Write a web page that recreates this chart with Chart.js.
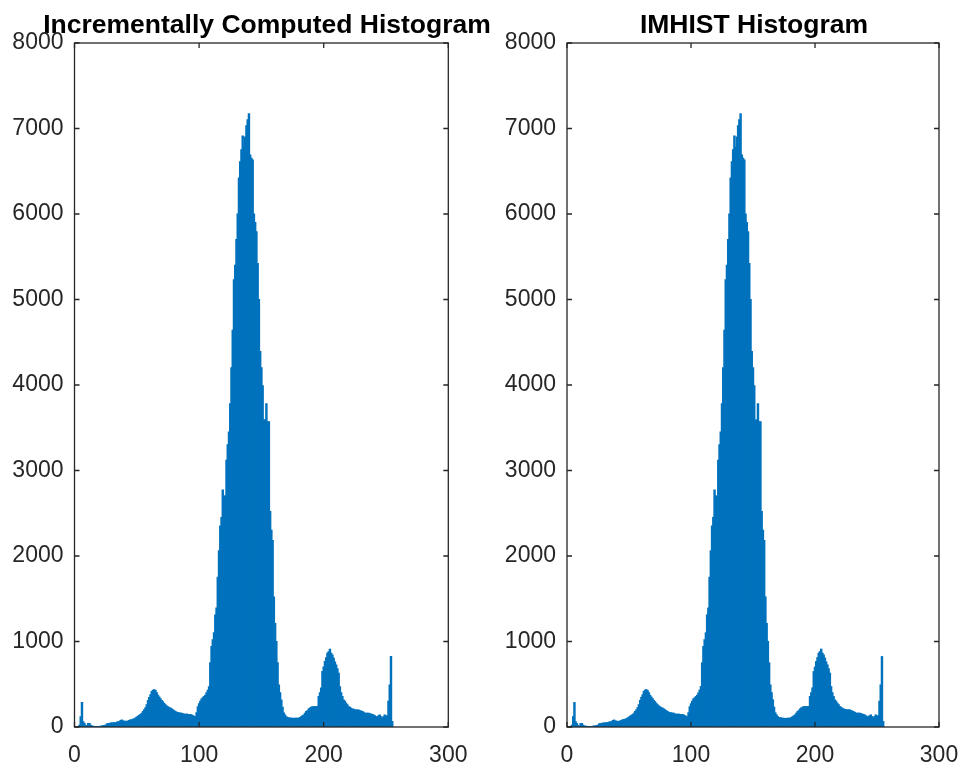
<!DOCTYPE html>
<html>
<head>
<meta charset="utf-8">
<script src="https://cdn.jsdelivr.net/npm/chart.js@4/dist/chart.umd.min.js"></script>
<style>
  html, body { margin: 0; padding: 0; background: #fff; overflow: hidden; width: 961px; height: 763px; }
  canvas { position: absolute; top: 0; }
  #left { left: 0; }
  #right { left: 500px; }
</style>
</head>
<body>
<canvas id="left" width="534" height="763"></canvas>
<canvas id="right" width="508" height="763"></canvas>
<script>
// intensity levels 0..255
const levels = Array.from({ length: 256 }, (_, i) => i);

// pixel counts per level (both panels show the same histogram)
const counts = [
  0, 0, 0, 0, 20, 120, 285, 60, 40, 15,
  10, 40, 40, 20, 10, 8, 6, 5, 5, 5,
  5, 8, 10, 12, 15, 20, 35, 40, 40, 45,
  45, 45, 50, 50, 55, 60, 60, 75, 80, 70,
  65, 65, 60, 70, 75, 85, 80, 90, 95, 105,
  115, 125, 135, 145, 160, 180, 200, 225, 260, 310,
  345, 375, 415, 430, 435, 425, 400, 370, 350, 330,
  310, 295, 275, 260, 245, 235, 225, 220, 210, 200,
  190, 180, 170, 165, 165, 160, 160, 150, 150, 145,
  150, 145, 140, 145, 140, 130, 125, 115, 165, 235,
  270, 300, 327, 340, 355, 370, 398, 430, 471, 749,
  940, 1020, 1100, 1310, 1390, 1750, 2060, 2350, 2450, 2770,
  2700, 2700, 3120, 3300, 3450, 3780, 4200, 4640, 5230, 5400,
  5700, 6000, 6420, 6610, 6750, 6910, 6780, 6900, 7030, 7100,
  7170, 6690, 6650, 6630, 6000, 5900, 5790, 5420, 5000, 4390,
  4200, 3990, 3590, 3590, 3780, 3570, 3570, 2520, 2300, 2180,
  1520, 1210, 1000, 750, 490, 400, 316, 230, 164, 140,
  120, 110, 105, 105, 100, 100, 98, 100, 100, 102,
  100, 110, 120, 130, 140, 160, 179, 190, 210, 222,
  230, 237, 237, 237, 237, 237, 355, 400, 456, 647,
  700, 764, 810, 862, 880, 909, 862, 840, 804, 760,
  725, 680, 628, 471, 400, 355, 316, 300, 277, 260,
  237, 230, 218, 210, 205, 199, 199, 199, 199, 190,
  185, 179, 170, 160, 160, 160, 160, 155, 150, 145,
  140, 130, 117, 120, 130, 140, 120, 105, 120, 140,
  120, 130, 300, 491, 822, 62
];

const xTicks = [0, 100, 200, 300];
const yTicks = [0, 1000, 2000, 3000, 4000, 5000, 6000, 7000, 8000];

const axisColor = '#262626';
const fontFamily = '"Liberation Sans", Arial, Helvetica, sans-serif';

// box around the axes with inward ticks on all four sides, like MATLAB
const boxPlugin = {
    id: 'matlabBox',
    afterDraw(chart) {
        const { ctx, chartArea: a, scales: { x, y } } = chart;
        ctx.save();
        ctx.strokeStyle = axisColor;
        ctx.lineWidth = 1.3;
        ctx.strokeRect(a.left, a.top, a.right - a.left, a.bottom - a.top);
        ctx.beginPath();
        x.ticks.forEach(t => {
            const px = x.getPixelForValue(t.value);
            ctx.moveTo(px, a.bottom); ctx.lineTo(px, a.bottom - 5);
            ctx.moveTo(px, a.top); ctx.lineTo(px, a.top + 5);
        });
        y.ticks.forEach(t => {
            const py = y.getPixelForValue(t.value);
            ctx.moveTo(a.left, py); ctx.lineTo(a.left + 5, py);
            ctx.moveTo(a.right, py); ctx.lineTo(a.right - 5, py);
        });
        ctx.stroke();
        ctx.restore();
    }
};

// leftWidth / rightWidth: space left and right of the plot box inside the canvas
function makeHistogram(id, title, leftWidth, rightWidth) {
    new Chart(document.getElementById(id), {
        type: 'bar',
        data: {
            datasets: [{
                data: levels.map((lv, i) => ({ x: lv, y: counts[i] })),
                backgroundColor: '#0072BD',
                borderWidth: 0,
                barPercentage: 1,
                categoryPercentage: 1,
                inflateAmount: 0.6
            }]
        },
        options: {
            responsive: false,
            animation: false,
            devicePixelRatio: 1,
            layout: { padding: 0 },
            plugins: {
                legend: { display: false },
                tooltip: { enabled: false },
                title: {
                    display: true,
                    text: title,
                    color: '#000',
                    font: { family: fontFamily, size: 26.5, weight: 'bold' },
                    padding: { top: 9.5, bottom: 1.7 }
                }
            },
            scales: {
                x: {
                    type: 'linear',
                    offset: false,
                    min: 0,
                    max: 300,
                    afterBuildTicks: s => { s.ticks = xTicks.map(v => ({ value: v })); },
                    afterFit: s => { s.height = 36; },
                    grid: { display: false, drawTicks: false, offset: false },
                    border: { display: false },
                    ticks: { color: axisColor, padding: 15, maxRotation: 0, font: { family: fontFamily, size: 23 } }
                },
                y: {
                    min: 0,
                    max: 8000,
                    afterBuildTicks: s => { s.ticks = yTicks.map(v => ({ value: v })); },
                    afterFit: s => { s.width = leftWidth; },
                    grid: { display: false, drawTicks: false },
                    border: { display: false },
                    ticks: {
                        color: axisColor,
                        padding: 11,
                        font: { family: fontFamily, size: 23 },
                        callback: v => String(v)
                    }
                },
                // empty right-hand margin so the title centres like the original
                margin: {
                    position: 'right',
                    display: true,
                    afterFit: s => { s.width = rightWidth; },
                    grid: { display: false, drawTicks: false },
                    border: { display: false },
                    ticks: { display: false }
                }
            }
        },
        plugins: [boxPlugin]
    });
}

makeHistogram('left', 'Incrementally Computed Histogram', 74.5, 534 - 448.3);
makeHistogram('right', 'IMHIST Histogram', 67, 508 - 439);
</script>
</body>
</html>
